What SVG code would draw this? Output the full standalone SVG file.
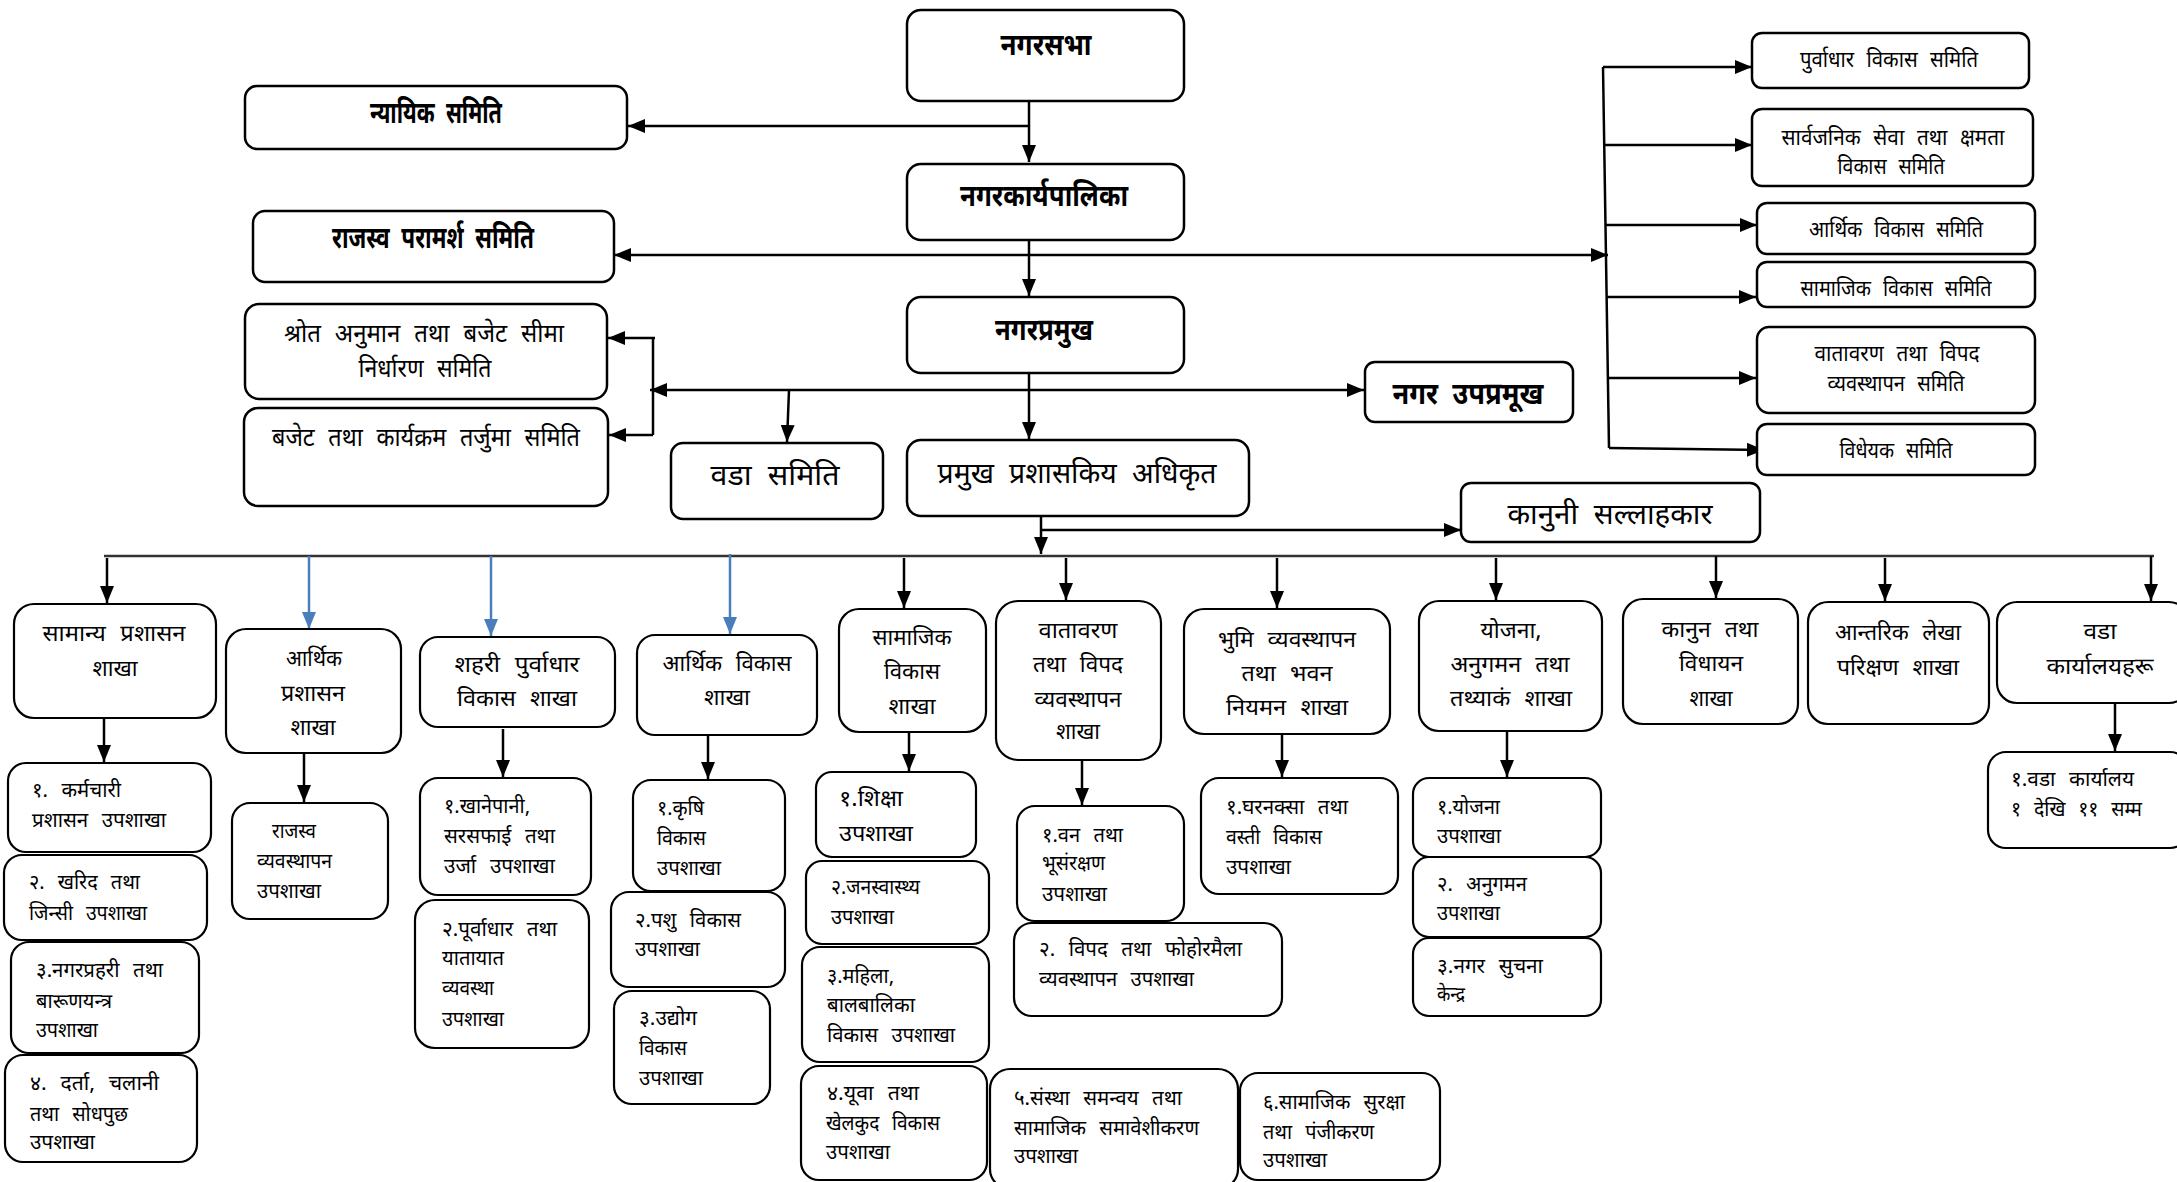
<svg xmlns="http://www.w3.org/2000/svg" width="2177" height="1182" viewBox="0 0 2177 1182">
<style>
.bg{fill:#fff}
.b{fill:#fff;stroke:#000;stroke-width:2.5}
.s{fill:#fff;stroke:#000;stroke-width:2.2}
text{font-family:"Noto Sans Devanagari","Noto Sans","Lohit Devanagari",sans-serif;fill:#000;word-spacing:8px}
.tb{font-size:31px;font-weight:bold}
.tn{font-size:25px}
.tc{font-size:23px}
.tm{font-size:29px}
.tl{font-size:23px}
.ts{font-size:20px}
.c{text-anchor:middle}
.ln{fill:none;stroke:#000;stroke-width:2.5}
.bl{fill:none;stroke:#4A7EBB;stroke-width:2.5}
.bus{fill:none;stroke:#333;stroke-width:2.5}
</style>
<defs>
<marker id="ah" viewBox="0 0 17 14" refX="17" refY="7" markerWidth="17" markerHeight="14" markerUnits="userSpaceOnUse" orient="auto-start-reverse"><path d="M0,0 L17,7 L0,14 z" fill="#000"/></marker>
<marker id="ahb" viewBox="0 0 17 14" refX="17" refY="7" markerWidth="17" markerHeight="14" markerUnits="userSpaceOnUse" orient="auto"><path d="M0,0 L17,7 L0,14 z" fill="#4A7EBB"/></marker>
</defs>
<rect class="bg" x="0" y="0" width="2177" height="1182"/>

<g id="connectors">
<path class="ln" d="M1029,101 V162" marker-end="url(#ah)"/>
<path class="ln" d="M1029,126 H628" marker-end="url(#ah)"/>
<path class="ln" d="M1029,240 V296" marker-end="url(#ah)"/>
<path class="ln" d="M614,255 H1608" marker-start="url(#ah)" marker-end="url(#ah)"/>
<path class="ln" d="M1029,373 V439" marker-end="url(#ah)"/>
<path class="ln" d="M650,390 H1364" marker-start="url(#ah)" marker-end="url(#ah)"/>
<path class="ln" d="M789,390 L787,442" marker-end="url(#ah)"/>
<path class="ln" d="M653,338 V435"/>
<path class="ln" d="M655,338 H608" marker-end="url(#ah)"/>
<path class="ln" d="M653,435 H609" marker-end="url(#ah)"/>
<path class="ln" d="M1603,67 L1609,448"/>
<path class="ln" d="M1603,67 H1752" marker-end="url(#ah)"/>
<path class="ln" d="M1604,145 H1752" marker-end="url(#ah)"/>
<path class="ln" d="M1606,225 H1757" marker-end="url(#ah)"/>
<path class="ln" d="M1607,297 H1756" marker-end="url(#ah)"/>
<path class="ln" d="M1608,378 H1756" marker-end="url(#ah)"/>
<path class="ln" d="M1609,448 L1764,450" marker-end="url(#ah)"/>
<path class="ln" d="M1041,511 V554" marker-end="url(#ah)"/>
<path class="ln" d="M1041,530 H1461" marker-end="url(#ah)"/>
<path class="bus" d="M104,556 H2154"/>
<path class="ln" d="M107,558 V603" marker-end="url(#ah)"/>
<path class="bl" d="M309,556 V629" marker-end="url(#ahb)"/>
<path class="bl" d="M491,556 V636" marker-end="url(#ahb)"/>
<path class="bl" d="M730,554 V634" marker-end="url(#ahb)"/>
<path class="ln" d="M904,558 V608" marker-end="url(#ah)"/>
<path class="ln" d="M1066,558 V600" marker-end="url(#ah)"/>
<path class="ln" d="M1277,558 V608" marker-end="url(#ah)"/>
<path class="ln" d="M1496,558 V600" marker-end="url(#ah)"/>
<path class="ln" d="M1716,556 V598" marker-end="url(#ah)"/>
<path class="ln" d="M1885,558 V601" marker-end="url(#ah)"/>
<path class="ln" d="M2151,556 V601" marker-end="url(#ah)"/>
<path class="ln" d="M104,718 V762" marker-end="url(#ah)"/>
<path class="ln" d="M304,753 V802" marker-end="url(#ah)"/>
<path class="ln" d="M503,729 V777" marker-end="url(#ah)"/>
<path class="ln" d="M708,735 V779" marker-end="url(#ah)"/>
<path class="ln" d="M909,730 V771" marker-end="url(#ah)"/>
<path class="ln" d="M1082,758 V805" marker-end="url(#ah)"/>
<path class="ln" d="M1282,734 V777" marker-end="url(#ah)"/>
<path class="ln" d="M1507,731 V777" marker-end="url(#ah)"/>
<path class="ln" d="M2115,703 V751" marker-end="url(#ah)"/>
</g>

<g id="n_nagarsabha"><rect class="b" x="907" y="10" width="277" height="91" rx="14"/><text class="tb c" x="1046" y="55" textLength="91" lengthAdjust="spacingAndGlyphs">नगरसभा</text></g>
<g id="n_karyapalika"><rect class="b" x="907" y="164" width="277" height="76" rx="14"/><text class="tb c" x="1044" y="206" textLength="168" lengthAdjust="spacingAndGlyphs">नगरकार्यपालिका</text></g>
<g id="n_pramukh"><rect class="b" x="907" y="297" width="277" height="76" rx="14"/><text class="tb c" x="1044" y="340" textLength="98" lengthAdjust="spacingAndGlyphs">नगरप्रमुख</text></g>
<g id="n_nyayik"><rect class="b" x="245" y="86" width="382" height="63" rx="12"/><text class="tb c" x="436" y="123" textLength="132" lengthAdjust="spacingAndGlyphs">न्यायिक समिति</text></g>
<g id="n_rajaswa"><rect class="b" x="253" y="211" width="361" height="71" rx="12"/><text class="tb c" x="433" y="248" textLength="202" lengthAdjust="spacingAndGlyphs">राजस्व परामर्श समिति</text></g>
<g id="n_shrot"><rect class="b" x="245" y="304" width="362" height="95" rx="14"/><text class="tn c" x="424" y="342" textLength="280" lengthAdjust="spacingAndGlyphs">श्रोत अनुमान तथा बजेट सीमा</text><text class="tn c" x="425" y="377" textLength="133" lengthAdjust="spacingAndGlyphs">निर्धारण समिति</text></g>
<g id="n_bajet"><rect class="b" x="244" y="408" width="364" height="98" rx="14"/><text class="tn c" x="426" y="446" textLength="308" lengthAdjust="spacingAndGlyphs">बजेट तथा कार्यक्रम तर्जुमा समिति</text></g>
<g id="n_wadasamiti"><rect class="b" x="671" y="443" width="212" height="76" rx="12"/><text class="tm c" x="775" y="485" textLength="129" lengthAdjust="spacingAndGlyphs">वडा समिति</text></g>
<g id="n_cao"><rect class="b" x="907" y="440" width="342" height="76" rx="14"/><text class="tm c" x="1077" y="483" textLength="279" lengthAdjust="spacingAndGlyphs">प्रमुख प्रशासकिय अधिकृत</text></g>
<g id="n_upapramukh"><rect class="b" x="1365" y="362" width="208" height="60" rx="10"/><text class="tb c" x="1468" y="404" textLength="151" lengthAdjust="spacingAndGlyphs">नगर उपप्रमूख</text></g>
<g id="n_kanuni"><rect class="b" x="1461" y="483" width="299" height="59" rx="10"/><text class="tm c" x="1610" y="524" textLength="205" lengthAdjust="spacingAndGlyphs">कानुनी सल्लाहकार</text></g>

<g id="c_purwadhar"><rect class="b" x="1752" y="33" width="277" height="55" rx="10"/><text class="tc c" x="1889" y="67" textLength="178" lengthAdjust="spacingAndGlyphs">पुर्वाधार विकास समिति</text></g>
<g id="c_sarwajanik"><rect class="b" x="1752" y="109" width="281" height="77" rx="10"/><text class="tc c" x="1893" y="145" textLength="223" lengthAdjust="spacingAndGlyphs">सार्वजनिक सेवा तथा क्षमता</text><text class="tc c" x="1891" y="174" textLength="107" lengthAdjust="spacingAndGlyphs">विकास समिति</text></g>
<g id="c_arthik"><rect class="b" x="1757" y="203" width="278" height="51" rx="10"/><text class="tc c" x="1896" y="237" textLength="174" lengthAdjust="spacingAndGlyphs">आर्थिक विकास समिति</text></g>
<g id="c_samajik"><rect class="b" x="1757" y="262" width="278" height="45" rx="10"/><text class="tc c" x="1896" y="296" textLength="191" lengthAdjust="spacingAndGlyphs">सामाजिक विकास समिति</text></g>
<g id="c_watawaran"><rect class="b" x="1757" y="327" width="278" height="86" rx="12"/><text class="tc c" x="1897" y="361" textLength="165" lengthAdjust="spacingAndGlyphs">वातावरण तथा विपद</text><text class="tc c" x="1896" y="391" textLength="137" lengthAdjust="spacingAndGlyphs">व्यवस्थापन समिति</text></g>
<g id="c_widheyak"><rect class="b" x="1757" y="424" width="278" height="51" rx="10"/><text class="tc c" x="1896" y="458" textLength="113" lengthAdjust="spacingAndGlyphs">विधेयक समिति</text></g>

<g id="b_samanya"><rect class="s" x="14" y="604" width="202" height="114" rx="20"/><text class="tl c" x="114" y="641" textLength="143" lengthAdjust="spacingAndGlyphs">सामान्य प्रशासन</text><text class="tl c" x="115" y="676" textLength="45" lengthAdjust="spacingAndGlyphs">शाखा</text></g>
<g id="s_karmachari"><rect class="s" x="8" y="763" width="203" height="89" rx="18"/><text class="ts" x="32" y="797" textLength="89" lengthAdjust="spacingAndGlyphs">१. कर्मचारी</text><text class="ts" x="32" y="827" textLength="134" lengthAdjust="spacingAndGlyphs">प्रशासन उपशाखा</text></g>
<g id="s_kharid"><rect class="s" x="4" y="855" width="203" height="85" rx="18"/><text class="ts" x="29" y="889" textLength="111" lengthAdjust="spacingAndGlyphs">२. खरिद तथा</text><text class="ts" x="29" y="920" textLength="118" lengthAdjust="spacingAndGlyphs">जिन्सी उपशाखा</text></g>
<g id="s_nagarprahari"><rect class="s" x="11" y="942" width="188" height="111" rx="18"/><text class="ts" x="36" y="977" textLength="127" lengthAdjust="spacingAndGlyphs">३.नगरप्रहरी तथा</text><text class="ts" x="36" y="1008" textLength="76" lengthAdjust="spacingAndGlyphs">बारूणयन्त्र</text><text class="ts" x="36" y="1037" textLength="62" lengthAdjust="spacingAndGlyphs">उपशाखा</text></g>
<g id="s_darta"><rect class="s" x="5" y="1055" width="192" height="107" rx="18"/><text class="ts" x="30" y="1090" textLength="129" lengthAdjust="spacingAndGlyphs">४. दर्ता, चलानी</text><text class="ts" x="30" y="1121" textLength="98" lengthAdjust="spacingAndGlyphs">तथा सोधपुछ</text><text class="ts" x="30" y="1149" textLength="65" lengthAdjust="spacingAndGlyphs">उपशाखा</text></g>

<g id="b_arthikprashasan"><rect class="s" x="226" y="629" width="175" height="124" rx="20"/><text class="tl c" x="314" y="666" textLength="56" lengthAdjust="spacingAndGlyphs">आर्थिक</text><text class="tl c" x="313" y="701" textLength="64" lengthAdjust="spacingAndGlyphs">प्रशासन</text><text class="tl c" x="313" y="735" textLength="45" lengthAdjust="spacingAndGlyphs">शाखा</text></g>
<g id="s_rajaswa"><rect class="s" x="232" y="803" width="156" height="116" rx="18"/><text class="ts" x="272" y="838" textLength="44" lengthAdjust="spacingAndGlyphs">राजस्व</text><text class="ts" x="257" y="868" textLength="75" lengthAdjust="spacingAndGlyphs">व्यवस्थापन</text><text class="ts" x="257" y="898" textLength="64" lengthAdjust="spacingAndGlyphs">उपशाखा</text></g>

<g id="b_shahari"><rect class="s" x="420" y="637" width="195" height="90" rx="18"/><text class="tl c" x="517" y="672" textLength="125" lengthAdjust="spacingAndGlyphs">शहरी पुर्वाधार</text><text class="tl c" x="517" y="706" textLength="120" lengthAdjust="spacingAndGlyphs">विकास शाखा</text></g>
<g id="s_khanepani"><rect class="s" x="420" y="778" width="171" height="117" rx="18"/><text class="ts" x="444" y="813" textLength="86" lengthAdjust="spacingAndGlyphs">१.खानेपानी,</text><text class="ts" x="444" y="843" textLength="111" lengthAdjust="spacingAndGlyphs">सरसफाई तथा</text><text class="ts" x="444" y="873" textLength="111" lengthAdjust="spacingAndGlyphs">उर्जा उपशाखा</text></g>
<g id="s_purwadhar"><rect class="s" x="415" y="900" width="174" height="148" rx="20"/><text class="ts" x="442" y="936" textLength="115" lengthAdjust="spacingAndGlyphs">२.पूर्वाधार तथा</text><text class="ts" x="442" y="965" textLength="62" lengthAdjust="spacingAndGlyphs">यातायात</text><text class="ts" x="442" y="995" textLength="52" lengthAdjust="spacingAndGlyphs">व्यवस्था</text><text class="ts" x="442" y="1026" textLength="62" lengthAdjust="spacingAndGlyphs">उपशाखा</text></g>

<g id="b_arthikbikas"><rect class="s" x="637" y="635" width="180" height="100" rx="18"/><text class="tl c" x="727" y="671" textLength="129" lengthAdjust="spacingAndGlyphs">आर्थिक विकास</text><text class="tl c" x="727" y="705" textLength="46" lengthAdjust="spacingAndGlyphs">शाखा</text></g>
<g id="s_krishi"><rect class="s" x="633" y="780" width="152" height="111" rx="18"/><text class="ts" x="657" y="815" textLength="47" lengthAdjust="spacingAndGlyphs">१.कृषि</text><text class="ts" x="657" y="845" textLength="49" lengthAdjust="spacingAndGlyphs">विकास</text><text class="ts" x="657" y="875" textLength="64" lengthAdjust="spacingAndGlyphs">उपशाखा</text></g>
<g id="s_pashu"><rect class="s" x="611" y="892" width="174" height="95" rx="18"/><text class="ts" x="635" y="927" textLength="106" lengthAdjust="spacingAndGlyphs">२.पशु विकास</text><text class="ts" x="635" y="956" textLength="65" lengthAdjust="spacingAndGlyphs">उपशाखा</text></g>
<g id="s_udyog"><rect class="s" x="614" y="991" width="156" height="113" rx="18"/><text class="ts" x="639" y="1025" textLength="58" lengthAdjust="spacingAndGlyphs">३.उद्योग</text><text class="ts" x="639" y="1055" textLength="48" lengthAdjust="spacingAndGlyphs">विकास</text><text class="ts" x="639" y="1085" textLength="64" lengthAdjust="spacingAndGlyphs">उपशाखा</text></g>

<g id="b_samajik"><rect class="s" x="839" y="609" width="147" height="123" rx="20"/><text class="tl c" x="912" y="645" textLength="79" lengthAdjust="spacingAndGlyphs">सामाजिक</text><text class="tl c" x="912" y="679" textLength="56" lengthAdjust="spacingAndGlyphs">विकास</text><text class="tl c" x="912" y="714" textLength="47" lengthAdjust="spacingAndGlyphs">शाखा</text></g>
<g id="s_shiksha"><rect class="s" x="816" y="772" width="160" height="85" rx="16"/><text class="tl" x="839" y="806" textLength="64" lengthAdjust="spacingAndGlyphs">१.शिक्षा</text><text class="tl" x="839" y="841" textLength="74" lengthAdjust="spacingAndGlyphs">उपशाखा</text></g>
<g id="s_janaswasthya"><rect class="s" x="806" y="861" width="183" height="83" rx="16"/><text class="ts" x="831" y="894" textLength="89" lengthAdjust="spacingAndGlyphs">२.जनस्वास्थ्य</text><text class="ts" x="831" y="924" textLength="63" lengthAdjust="spacingAndGlyphs">उपशाखा</text></g>
<g id="s_mahila"><rect class="s" x="802" y="947" width="187" height="115" rx="18"/><text class="ts" x="827" y="983" textLength="67" lengthAdjust="spacingAndGlyphs">३.महिला,</text><text class="ts" x="827" y="1012" textLength="88" lengthAdjust="spacingAndGlyphs">बालबालिका</text><text class="ts" x="827" y="1042" textLength="128" lengthAdjust="spacingAndGlyphs">विकास उपशाखा</text></g>
<g id="s_yuwa"><rect class="s" x="801" y="1066" width="186" height="114" rx="18"/><text class="ts" x="827" y="1100" textLength="92" lengthAdjust="spacingAndGlyphs">४.यूवा तथा</text><text class="ts" x="826" y="1130" textLength="114" lengthAdjust="spacingAndGlyphs">खेलकुद विकास</text><text class="ts" x="826" y="1159" textLength="64" lengthAdjust="spacingAndGlyphs">उपशाखा</text></g>
<g id="s_sanstha"><rect class="s" x="990" y="1069" width="248" height="120" rx="20"/><text class="ts" x="1014" y="1105" textLength="168" lengthAdjust="spacingAndGlyphs">५.संस्था समन्वय तथा</text><text class="ts" x="1014" y="1135" textLength="185" lengthAdjust="spacingAndGlyphs">सामाजिक समावेशीकरण</text><text class="ts" x="1014" y="1163" textLength="64" lengthAdjust="spacingAndGlyphs">उपशाखा</text></g>
<g id="s_suraksha"><rect class="s" x="1240" y="1073" width="200" height="107" rx="18"/><text class="ts" x="1263" y="1109" textLength="142" lengthAdjust="spacingAndGlyphs">६.सामाजिक सुरक्षा</text><text class="ts" x="1263" y="1139" textLength="111" lengthAdjust="spacingAndGlyphs">तथा पंजीकरण</text><text class="ts" x="1263" y="1167" textLength="64" lengthAdjust="spacingAndGlyphs">उपशाखा</text></g>

<g id="b_watawaran"><rect class="s" x="996" y="601" width="165" height="159" rx="22"/><text class="tl c" x="1078" y="638" textLength="79" lengthAdjust="spacingAndGlyphs">वातावरण</text><text class="tl c" x="1078" y="672" textLength="90" lengthAdjust="spacingAndGlyphs">तथा विपद</text><text class="tl c" x="1078" y="707" textLength="87" lengthAdjust="spacingAndGlyphs">व्यवस्थापन</text><text class="tl c" x="1078" y="739" textLength="44" lengthAdjust="spacingAndGlyphs">शाखा</text></g>
<g id="s_ban"><rect class="s" x="1017" y="806" width="167" height="115" rx="18"/><text class="ts" x="1042" y="842" textLength="81" lengthAdjust="spacingAndGlyphs">१.वन तथा</text><text class="ts" x="1042" y="870" textLength="63" lengthAdjust="spacingAndGlyphs">भूसंरक्षण</text><text class="ts" x="1042" y="901" textLength="65" lengthAdjust="spacingAndGlyphs">उपशाखा</text></g>
<g id="s_bipad"><rect class="s" x="1014" y="923" width="268" height="93" rx="18"/><text class="ts" x="1039" y="956" textLength="203" lengthAdjust="spacingAndGlyphs">२. विपद तथा फोहोरमैला</text><text class="ts" x="1039" y="986" textLength="155" lengthAdjust="spacingAndGlyphs">व्यवस्थापन उपशाखा</text></g>

<g id="b_bhumi"><rect class="s" x="1184" y="609" width="206" height="125" rx="20"/><text class="tl c" x="1287" y="647" textLength="138" lengthAdjust="spacingAndGlyphs">भुमि व्यवस्थापन</text><text class="tl c" x="1287" y="681" textLength="91" lengthAdjust="spacingAndGlyphs">तथा भवन</text><text class="tl c" x="1287" y="715" textLength="122" lengthAdjust="spacingAndGlyphs">नियमन शाखा</text></g>
<g id="s_gharnaksa"><rect class="s" x="1201" y="778" width="197" height="116" rx="18"/><text class="ts" x="1226" y="814" textLength="122" lengthAdjust="spacingAndGlyphs">१.घरनक्सा तथा</text><text class="ts" x="1226" y="844" textLength="96" lengthAdjust="spacingAndGlyphs">वस्ती विकास</text><text class="ts" x="1226" y="874" textLength="65" lengthAdjust="spacingAndGlyphs">उपशाखा</text></g>

<g id="b_yojana"><rect class="s" x="1419" y="601" width="183" height="130" rx="20"/><text class="tl c" x="1511" y="638" textLength="61" lengthAdjust="spacingAndGlyphs">योजना,</text><text class="tl c" x="1510" y="672" textLength="119" lengthAdjust="spacingAndGlyphs">अनुगमन तथा</text><text class="tl c" x="1511" y="706" textLength="122" lengthAdjust="spacingAndGlyphs">तथ्याकं शाखा</text></g>
<g id="s_yojana"><rect class="s" x="1413" y="778" width="188" height="79" rx="16"/><text class="ts" x="1437" y="814" textLength="63" lengthAdjust="spacingAndGlyphs">१.योजना</text><text class="ts" x="1437" y="843" textLength="64" lengthAdjust="spacingAndGlyphs">उपशाखा</text></g>
<g id="s_anugaman"><rect class="s" x="1413" y="857" width="188" height="80" rx="16"/><text class="ts" x="1437" y="891" textLength="90" lengthAdjust="spacingAndGlyphs">२. अनुगमन</text><text class="ts" x="1437" y="920" textLength="63" lengthAdjust="spacingAndGlyphs">उपशाखा</text></g>
<g id="s_suchana"><rect class="s" x="1413" y="938" width="188" height="78" rx="16"/><text class="ts" x="1437" y="973" textLength="106" lengthAdjust="spacingAndGlyphs">३.नगर सुचना</text><text class="ts" x="1437" y="1001" textLength="28" lengthAdjust="spacingAndGlyphs">केन्द्र</text></g>

<g id="b_kanun"><rect class="s" x="1623" y="599" width="175" height="125" rx="20"/><text class="tl c" x="1710" y="637" textLength="97" lengthAdjust="spacingAndGlyphs">कानुन तथा</text><text class="tl c" x="1711" y="671" textLength="64" lengthAdjust="spacingAndGlyphs">विधायन</text><text class="tl c" x="1711" y="706" textLength="43" lengthAdjust="spacingAndGlyphs">शाखा</text></g>
<g id="b_aantarik"><rect class="s" x="1808" y="602" width="181" height="122" rx="20"/><text class="tl c" x="1898" y="640" textLength="126" lengthAdjust="spacingAndGlyphs">आन्तरिक लेखा</text><text class="tl c" x="1898" y="675" textLength="122" lengthAdjust="spacingAndGlyphs">परिक्षण शाखा</text></g>
<g id="b_wada"><rect class="s" x="1997" y="602" width="192" height="101" rx="20"/><text class="tl c" x="2100" y="639" textLength="33" lengthAdjust="spacingAndGlyphs">वडा</text><text class="tl c" x="2100" y="674" textLength="107" lengthAdjust="spacingAndGlyphs">कार्यालयहरू</text></g>
<g id="s_wada"><rect class="s" x="1988" y="752" width="200" height="96" rx="18"/><text class="ts" x="2011" y="786" textLength="123" lengthAdjust="spacingAndGlyphs">१.वडा कार्यालय</text><text class="ts" x="2011" y="816" textLength="131" lengthAdjust="spacingAndGlyphs">१ देखि ११ सम्म</text></g>
</svg>
